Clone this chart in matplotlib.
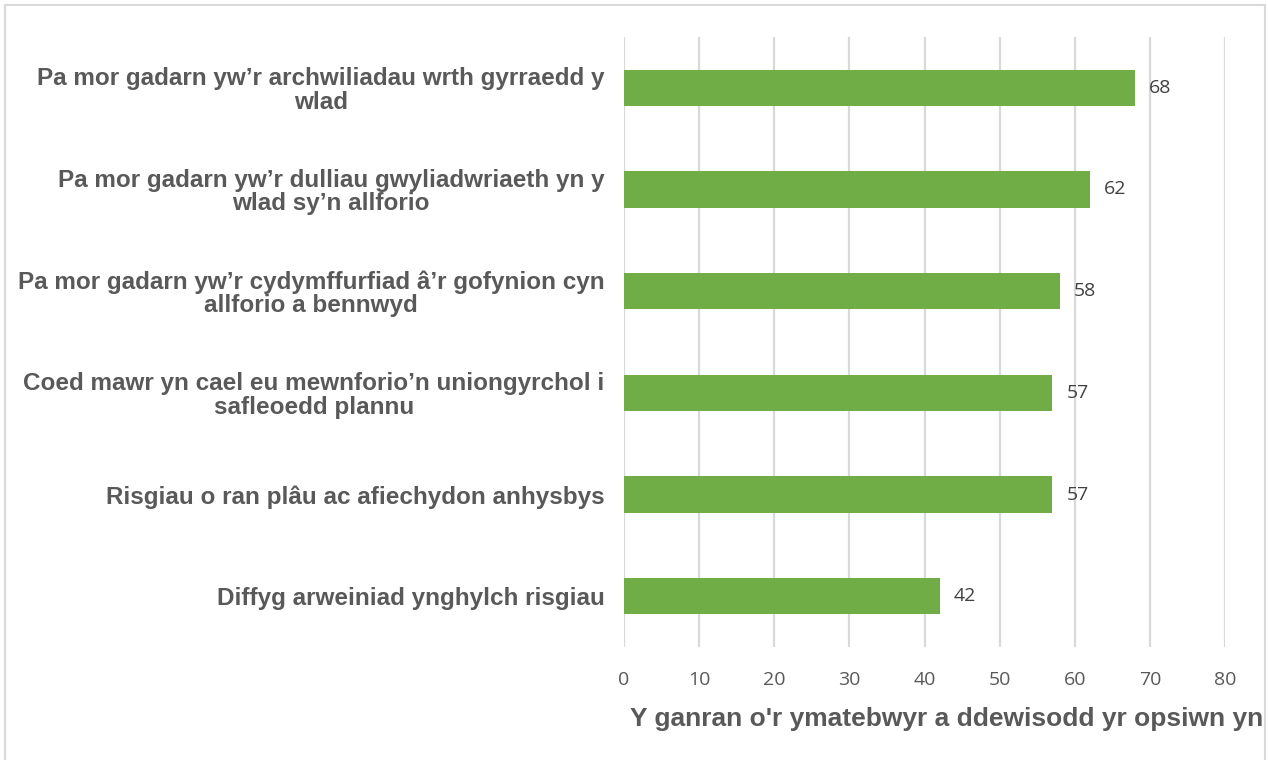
import matplotlib
matplotlib.use("Agg")
import matplotlib.pyplot as plt
from matplotlib.patches import Rectangle
from matplotlib.transforms import Bbox, TransformedBbox

categories = [
    "Pa mor gadarn yw\u2019r archwiliadau wrth gyrraedd y\nwlad",
    "Pa mor gadarn yw\u2019r dulliau gwyliadwriaeth yn y\nwlad sy\u2019n allforio",
    "Pa mor gadarn yw\u2019r cydymffurfiad \u00e2\u2019r gofynion cyn\nallforio a bennwyd",
    "Coed mawr yn cael eu mewnforio\u2019n uniongyrchol i\nsafleoedd plannu",
    "Risgiau o ran pl\u00e2u ac afiechydon anhysbys",
    "Diffyg arweiniad ynghylch risgiau",
]
values = [68, 62, 58, 57, 57, 42]
xticks = [0, 10, 20, 30, 40, 50, 60, 70, 80]
xlabel = "Y ganran o'r ymatebwyr a ddewisodd yr opsiwn yn"

W, H = 1268, 760
fig = plt.figure(figsize=(W / 100, H / 100), dpi=100)
fig.patch.set_facecolor("white")
# outer border
fig.patches.append(Rectangle((5 / W, -0.01), (1260 / W), 1 - 5 / H + 0.01, transform=fig.transFigure,
                             fill=False, edgecolor="#d9d9d9", linewidth=1.5))

ax = fig.add_axes([624 / W, 1 - 647 / H, (1225 - 624) / W, (647 - 37) / H])
ypos = list(range(len(categories)))
ax.barh(ypos, values, height=0.36, color="#70AD47", zorder=3)
ax.set_ylim(len(categories) - 0.5, -0.5)
ax.set_xlim(0, 80)
ax.set_xticks(xticks)
ax.set_xticklabels([str(t) for t in xticks], fontsize=14, color="#595959", family="Open Sans")
ax.tick_params(axis="x", length=0, pad=17)
ax.set_yticks(ypos)
ax.set_yticklabels(categories, fontsize=17.5, fontweight="bold", color="#595959",
                   family="Liberation Sans", ha="right", multialignment="center",
                   linespacing=1.02)
ax.tick_params(axis="y", length=0, pad=14)
ax.grid(axis="x", color="#d9d9d9", linewidth=1.6, zorder=0)
for s in ax.spines.values():
    s.set_visible(False)

for y, v in zip(ypos, values):
    ax.text(v + 1.9, y, str(v), va="center", ha="left", fontsize=14, color="#404040",
            family="Open Sans")

t = fig.text(630 / W, 1 - 719 / H, xlabel, fontsize=19, fontweight="bold", color="#595959",
             family="Liberation Sans", va="center", ha="left")
t.set_clip_box(TransformedBbox(Bbox([[0, 0], [1263 / W, 1]]), fig.transFigure))
t.set_clip_on(True)

fig.savefig("out.png", dpi=100)
